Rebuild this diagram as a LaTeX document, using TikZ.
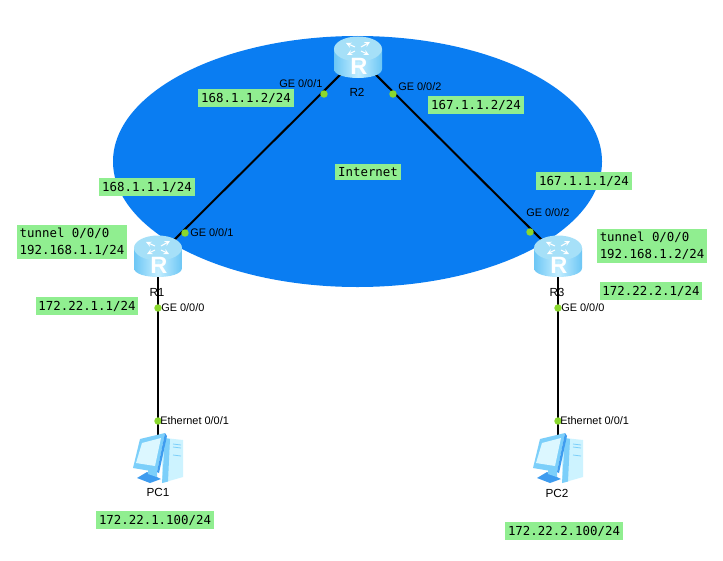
\documentclass[tikz,border=0pt]{standalone}
\usepackage{fontspec}
\setmainfont{Liberation Sans}
\newfontfamily\ipfont{DejaVu Sans Mono}
\definecolor{cloudblue}{HTML}{0A7DF2}
\definecolor{tagbg}{HTML}{90EE90}
\definecolor{portdot}{HTML}{8AD82E}
\definecolor{rsidedark}{HTML}{6CC6F5}
\definecolor{rsidelight}{HTML}{C4EEFF}
\definecolor{rtop}{HTML}{A6E0F8}
\definecolor{pcdark}{HTML}{3E9CEF}
\definecolor{pcmid}{HTML}{7CCFFA}
\definecolor{pclight}{HTML}{CDF3FF}
\tikzset{
  x=0.75pt,y=-0.75pt,
  tag/.style={fill=tagbg,inner xsep=2.2pt,inner ysep=2.6pt,font=\ipfont\fontsize{9.3}{13}\selectfont,align=left},
  portlabel/.style={font=\fontsize{8.2}{9}\selectfont,anchor=west,inner sep=0pt,text=black},
  devlabel/.style={font=\fontsize{8.8}{9}\selectfont,inner sep=0pt,text=black},
  link/.style={line width=1.5pt,black},
  portdotst/.style={circle,fill=portdot,inner sep=0pt,minimum size=5.6pt},
  device/.style={inner sep=0pt,minimum width=36pt,minimum height=31pt},
  rarrow/.style={white,line width=0.8pt,-stealth},
  pics/routerpic/.style={code={
    \path[left color=rsidedark,right color=rsidedark,middle color=rsidelight]
      (-24,-8) -- (-24,12) .. controls (-24,24) and (24,24) .. (24,12) -- (24,-8) -- cycle;
    \fill[rtop] (0,-8) ellipse[x radius=24,y radius=12.5];
    \draw[rarrow] (-3,-10) -- (-12,-14);
    \draw[rarrow] (3,-10) -- (12,-15);
    \draw[rarrow] (-3,-6) -- (-11,-2);
    \draw[rarrow] (3,-6) -- (11,-2);
    \node[text=white,inner sep=0pt,font=\bfseries\fontsize{17.7}{18}\selectfont] at (1,9.5) {R};
  }},
  pics/pcpic/.style={code={
    % tower
    \fill[pclight] (7,-20) -- (25,-18) -- (25,19) -- (4,25) -- (4,-10) -- cycle;
    \fill[pcmid] (7,-20) -- (12,-19) -- (10,23.5) -- (4,25) -- cycle;
    \draw[pcmid,line width=0.6pt] (15,-14) -- (23,-13) (15,-11) -- (23,-10) (15,-3) -- (23,-2);
    % base
    \fill[pcdark] (-21,20) -- (-11,14) -- (3,21) -- (-8,25) -- cycle;
    \fill[pcmid] (-10,10) -- (-1,12) -- (-1,19) -- (-10,16) -- cycle;
    % monitor
    \fill[pcmid] (-18,-19) -- (7,-25) -- (-1,14) -- (-25,10) -- cycle;
    \fill[pcdark] (7,-25) -- (9,-22) -- (1,15) -- (-1,14) -- cycle;
    \fill[pclight!70!white] (-16,-15) -- (3,-20) -- (-3,8) -- (-22,5) -- cycle;
  }}
}
\begin{document}
\begin{tikzpicture}
\useasboundingbox (0,0) rectangle (723,560);
\fill[white] (0,0) rectangle (723,560);
\fill[cloudblue] (357.5,161.5) ellipse[x radius=244.5,y radius=125.5];
% devices
\node[device] (r1) at (158,256) {};
\node[device] (r2) at (358,57) {};
\node[device] (r3) at (558,256) {};
\node[device] (pc1) at (158,458) {};
\node[device] (pc2) at (558,458) {};
% links
\draw[link] (r2.center) -- (r1.center);
\draw[link] (r2.center) -- (r3.center);
\draw[link] (r1.center) -- (pc1.center);
\draw[link] (r3.center) -- (pc2.center);
% device icons
\pic at (r1) {routerpic};
\pic at (r2) {routerpic};
\pic at (r3) {routerpic};
\pic at (pc1) {pcpic};
\pic at (pc2) {pcpic};
% port dots
\node[portdotst] (d21) at (324,94) {};
\node[portdotst] (d22) at (393,94) {};
\node[portdotst] (d11) at (185,233) {};
\node[portdotst] (d10) at (158,308) {};
\node[portdotst] (dp1) at (158,421) {};
\node[portdotst] (d32) at (530,232) {};
\node[portdotst] (d30) at (558,308) {};
\node[portdotst] (dp2) at (558,421) {};
% port labels
\node[portlabel] (l21) at (279,84) {GE 0/0/1};
\node[portlabel] (l22) at (398,87) {GE 0/0/2};
\node[portlabel] (l11) at (190,233) {GE 0/0/1};
\node[portlabel] (l10) at (161,308) {GE 0/0/0};
\node[portlabel] (lp1) at (160,421) {Ethernet 0/0/1};
\node[portlabel] (l32) at (526,213) {GE 0/0/2};
\node[portlabel] (l30) at (561,308) {GE 0/0/0};
\node[portlabel] (lp2) at (560,421) {Ethernet 0/0/1};
% device names
\node[devlabel] (n1) at (157,292) {R1};
\node[devlabel] (n2) at (357,92) {R2};
\node[devlabel] (n3) at (557,292) {R3};
\node[devlabel] (np1) at (158,492) {PC1};
\node[devlabel] (np2) at (557,493) {PC2};
% address tags
\node[tag] (t1) at (246,98) {168.1.1.2/24};
\node[tag] (t2) at (476,105) {167.1.1.2/24};
\node[tag] (t3) at (147,187) {168.1.1.1/24};
\node[tag] (t4) at (368,172) {Internet};
\node[tag] (t5) at (584,181) {167.1.1.1/24};
\node[tag] (t6) at (72,242) {tunnel 0/0/0\\192.168.1.1/24};
\node[tag] (t7) at (652,246) {tunnel 0/0/0\\192.168.1.2/24};
\node[tag] (t8) at (87,306) {172.22.1.1/24};
\node[tag] (t9) at (651,291) {172.22.2.1/24};
\node[tag] (t10) at (155,520) {172.22.1.100/24};
\node[tag] (t11) at (564,531) {172.22.2.100/24};
\end{tikzpicture}
\end{document}
